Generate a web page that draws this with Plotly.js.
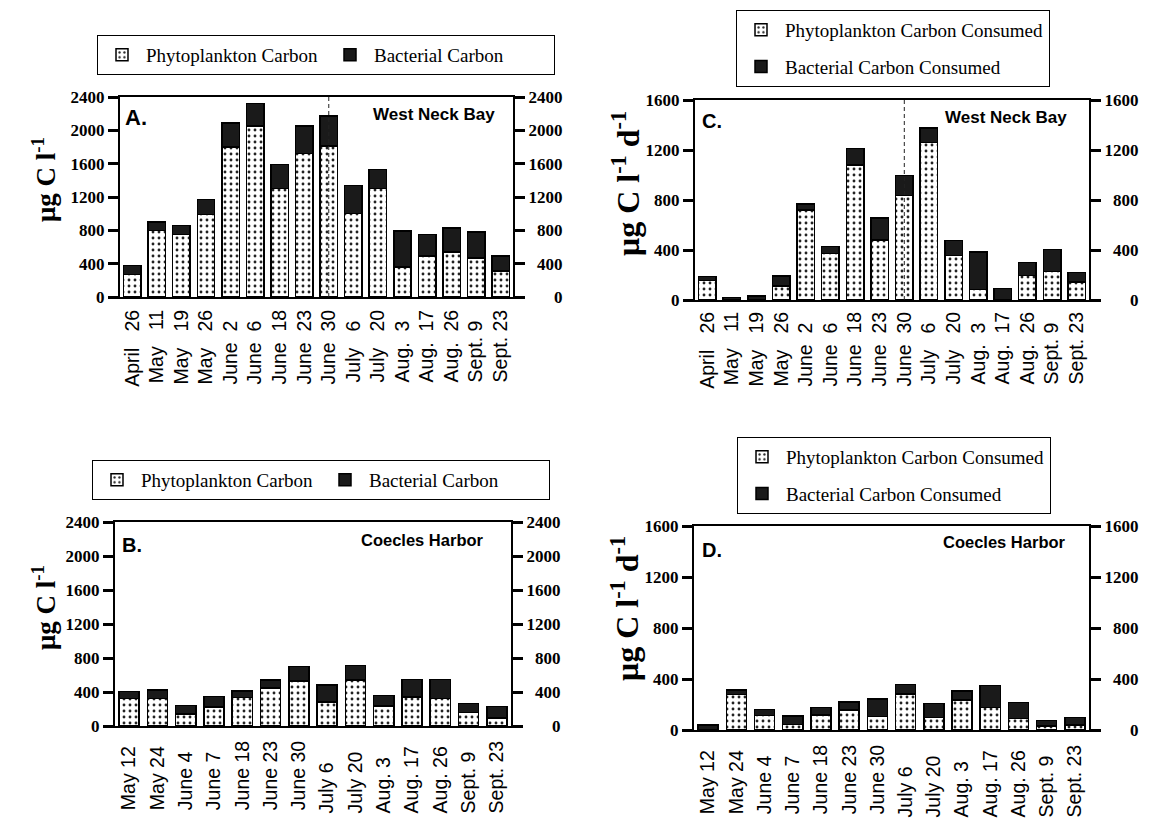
<!DOCTYPE html>
<html>
<head>
<meta charset="utf-8">
<script src="https://cdn.plot.ly/plotly-3.0.1.min.js"></script>
<style>html,body{margin:0;padding:0;background:#fff;}#chart{width:1153px;height:818px;}</style>
</head>
<body>
<div id="chart"></div>
<script>
// ---------- data ----------
const datesWestNeck = ["April 26","May 11","May 19","May 26","June 2","June 6","June 18","June 23","June 30","July 6","July 20","Aug. 3","Aug. 17","Aug. 26","Sept. 9","Sept. 23"];
const datesCoecles  = ["May 12","May 24","June 4","June 7","June 18","June 23","June 30","July 6","July 20","Aug. 3","Aug. 17","Aug. 26","Sept. 9","Sept. 23"];

// Panel A: standing stock, West Neck Bay (µg C l-1)
const phytoA = [270, 800, 750, 990, 1800, 2050, 1300, 1720, 1810, 1000, 1300, 360, 490, 540, 470, 310];
const bactA  = [110, 100, 110, 180,  290,  270,  290,  330,  360,  340,  230, 430, 260, 290, 310, 180];
// Panel B: standing stock, Coecles Harbor (µg C l-1)
const phytoB = [325, 325, 140, 225, 335, 450, 530, 280, 540, 235, 340, 325, 160,  95];
const bactB  = [ 80, 100, 100, 120,  75,  90, 170, 200, 170, 125, 210, 225, 105, 135];
// Panel C: carbon consumed, West Neck Bay (µg C l-1 d-1)
const phytoC = [155,  0,  0, 112, 720, 373, 1080, 480, 835, 1262, 357,  85,  0, 197, 229, 144];
const bactC  = [ 32, 22, 32,  80,  48,  54,  133, 175, 160,  113, 120, 299, 93, 102, 176,  75];
// Panel D: carbon consumed, Coecles Harbor (µg C l-1 d-1)
const phytoD = [ 0, 280, 112, 44, 118, 157, 105, 282,  97, 235, 175,  92, 31, 39];
const bactD  = [39,  34,  50, 66,  60,  63, 138,  76, 112,  71, 173, 122, 42, 58];

const ticksStock    = [0, 400, 800, 1200, 1600, 2000, 2400];
const ticksConsumed = [0, 400, 800, 1200, 1600];
const dashedDate = "June 30";

const namePhyto = "Phytoplankton Carbon", nameBact = "Bacterial Carbon";
const namePhytoC = "Phytoplankton Carbon Consumed", nameBactC = "Bacterial Carbon Consumed";

// ---------- helpers ----------
const W = 1153, H = 818;
const px = v => v / W;
const py = v => 1 - v / H;

const NB = '\u00a0', FS = '\u2007', ZW = '\u200b';
const ctx = document.createElement('canvas').getContext('2d');
const XFONT = 19.5;
ctx.font = XFONT + 'px "Liberation Sans"';
const tw = s => ctx.measureText(s).width;

// labels are set flush with the far end (start-aligned), as in the original
function padLabels(cats, dayCol) {
  const built = cats.map(lbl => {
    const i = lbl.lastIndexOf(' ');
    const m = lbl.slice(0, i), d = lbl.slice(i + 1);
    let s = m + NB;
    if (dayCol) while (tw(s + NB) <= dayCol) s += NB;
    return s + d;
  });
  const maxW = Math.max(...built.map(tw));
  return built.map(s => { while (tw(s + NB) <= maxW + 1) s += NB; return s + ZW; });
}
const padNum = (v, n) => { let s = String(v); while (s.length < n) s = FS + s; return ZW + s; };

const tickFontY = {family: 'Liberation Serif', size: 17, color: 'black', weight: 'bold'};

function xAx(domain, anchor, cats, dayCol, standoff) {
  return {domain, anchor, type: 'category', categoryorder: 'array', categoryarray: cats,
    tickmode: 'array', tickvals: cats, ticktext: padLabels(cats, dayCol), tickangle: -90,
    tickfont: {family: 'Liberation Sans', size: XFONT, color: 'black'},
    showline: true, linecolor: 'black', linewidth: 2, mirror: true, ticks: '',
    showgrid: false, zeroline: false, ticklabelstandoff: standoff, fixedrange: true};
}
function yAx(domain, anchor, range, vals, side, overlaying) {
  const o = {domain, anchor, range, side, tickmode: 'array', tickvals: vals,
    ticktext: side === 'right' ? vals.map(v => padNum(v, String(range[1]).length)) : vals.map(String),
    ticks: 'outside', ticklen: 10, tickwidth: 3, tickcolor: 'black',
    showline: true, linecolor: 'black', linewidth: 2, showgrid: false, zeroline: false,
    tickfont: tickFontY, fixedrange: true};
  if (overlaying) o.overlaying = overlaying;
  return o;
}

const phytoMarker = {color: 'white', line: {color: 'black', width: 1.5},
  pattern: {shape: '.', fgcolor: '#222', bgcolor: 'white', size: 6, solidity: 0.18}};
const bactMarker = {color: '#1a1a1a', line: {color: 'black', width: 1.5}};

function panel(cats, phyto, bact, xa, ya, ya2, leg, nP, nB, grouped) {
  return [
    {type: 'bar', x: cats, y: phyto, name: nP, xaxis: xa, yaxis: ya, marker: phytoMarker,
     legend: leg, legendgroup: grouped ? leg + 'p' : undefined, hoverinfo: 'y'},
    {type: 'bar', x: cats, y: bact, name: nB, xaxis: xa, yaxis: ya, marker: bactMarker,
     legend: leg, legendgroup: grouped ? leg + 'b' : undefined, hoverinfo: 'y'},
    {type: 'scatter', x: [], y: [], xaxis: xa, yaxis: ya2, showlegend: false, hoverinfo: 'skip'}
  ];
}

const data = [
  ...panel(datesWestNeck, phytoA, bactA, 'x',  'y',  'y2', 'legend',  namePhyto,  nameBact,  false),
  ...panel(datesWestNeck, phytoC, bactC, 'x2', 'y3', 'y4', 'legend2', namePhytoC, nameBactC, true),
  ...panel(datesCoecles,  phytoB, bactB, 'x3', 'y5', 'y6', 'legend3', namePhyto,  nameBact,  false),
  ...panel(datesCoecles,  phytoD, bactD, 'x4', 'y7', 'y8', 'legend4', namePhytoC, nameBactC, true)
];

const dA = {x: [px(120), px(513)], y: [py(297), py(97)]};
const dC = {x: [px(695), px(1089)], y: [py(300), py(100)]};
const dB = {x: [px(115), px(511)], y: [py(726), py(522)]};
const dD = {x: [px(694), px(1089)], y: [py(730), py(526)]};

const legFont = {family: 'Liberation Serif', size: 19, color: 'black'};
function legH(x, y) {
  return {x: px(x), y: py(y), xanchor: 'left', yanchor: 'top', orientation: 'h',
    bordercolor: 'black', borderwidth: 1, bgcolor: 'white', font: legFont,
    traceorder: 'normal', entrywidth: 175, entrywidthmode: 'pixels', itemwidth: 38};
}
function legV(x, y) {
  return {x: px(x), y: py(y), xanchor: 'left', yanchor: 'top', orientation: 'v',
    bordercolor: 'black', borderwidth: 1, bgcolor: 'white', font: legFont,
    traceorder: 'grouped', tracegroupgap: 9, itemwidth: 38};
}

const labFont = s => ({family: 'Liberation Sans', size: s, color: 'black', weight: 'bold'});
const titleFont = s => ({family: 'Liberation Serif', size: s, color: 'black', weight: 'bold'});
function ann(text, x, y, xanchor, size) {
  return {text, x: px(x), y: py(y), xref: 'paper', yref: 'paper', xanchor, yanchor: 'middle',
    showarrow: false, font: labFont(size)};
}
function ytitle(text, x, y, size) {
  return {text, x: px(x), y: py(y), xref: 'paper', yref: 'paper', xanchor: 'center', yanchor: 'middle',
    textangle: -90, showarrow: false, font: titleFont(size)};
}

const layout = {
  width: W, height: H, margin: {l: 0, r: 0, t: 0, b: 0},
  paper_bgcolor: 'white', plot_bgcolor: 'white',
  barmode: 'stack', bargap: 0.29, showlegend: true,
  font: {family: 'Liberation Serif', color: 'black'},
  xaxis:  xAx(dA.x, 'y',  datesWestNeck, 56, 3),
  yaxis:  yAx(dA.y, 'x',  [0, 2400], ticksStock, 'left'),
  yaxis2: yAx(dA.y, 'x',  [0, 2400], ticksStock, 'right', 'y'),
  xaxis2: xAx(dC.x, 'y3', datesWestNeck, 56, 2),
  yaxis3: yAx(dC.y, 'x2', [0, 1600], ticksConsumed, 'left'),
  yaxis4: yAx(dC.y, 'x2', [0, 1600], ticksConsumed, 'right', 'y3'),
  xaxis3: xAx(dB.x, 'y5', datesCoecles, 0, 5),
  yaxis5: yAx(dB.y, 'x3', [0, 2400], ticksStock, 'left'),
  yaxis6: yAx(dB.y, 'x3', [0, 2400], ticksStock, 'right', 'y5'),
  xaxis4: xAx(dD.x, 'y7', datesCoecles, 0, 5),
  yaxis7: yAx(dD.y, 'x4', [0, 1600], ticksConsumed, 'left'),
  yaxis8: yAx(dD.y, 'x4', [0, 1600], ticksConsumed, 'right', 'y7'),
  legend:  legH(97, 35),
  legend2: legV(736, 10),
  legend3: legH(92, 460),
  legend4: legV(737, 437),
  shapes: [
    {type: 'line', xref: 'x',  yref: 'y',  x0: dashedDate, x1: dashedDate, y0: 0, y1: 2400,
     line: {color: '#222', width: 1, dash: '4px,3px'}, layer: 'above'},
    {type: 'line', xref: 'x2', yref: 'y3', x0: dashedDate, x1: dashedDate, y0: 0, y1: 1600,
     line: {color: '#222', width: 1, dash: '4px,3px'}, layer: 'above'}
  ],
  annotations: [
    ann('A.', 123, 118, 'left', 22),
    ann('West Neck Bay', 497, 114, 'right', 17),
    ann('C.', 700, 121, 'left', 20),
    ann('West Neck Bay', 1069, 117, 'right', 17),
    ann('B.', 120, 545, 'left', 20),
    ann('Coecles Harbor', 486, 540, 'right', 16.5),
    ann('D.', 700, 550, 'left', 20),
    ann('Coecles Harbor', 1068, 542, 'right', 16.5),
    ytitle('μg C l<sup>-1</sup>', 44, 180, 27),
    ytitle('μg C l<sup>-1</sup>', 44, 608, 27),
    ytitle('μg C l<sup>-1</sup> d<sup>-1</sup>', 626, 184, 32),
    ytitle('μg C l<sup>-1</sup> d<sup>-1</sup>', 625, 609, 32)
  ]
};

Plotly.newPlot('chart', data, layout, {displayModeBar: false, staticPlot: true});
</script>
</body>
</html>
